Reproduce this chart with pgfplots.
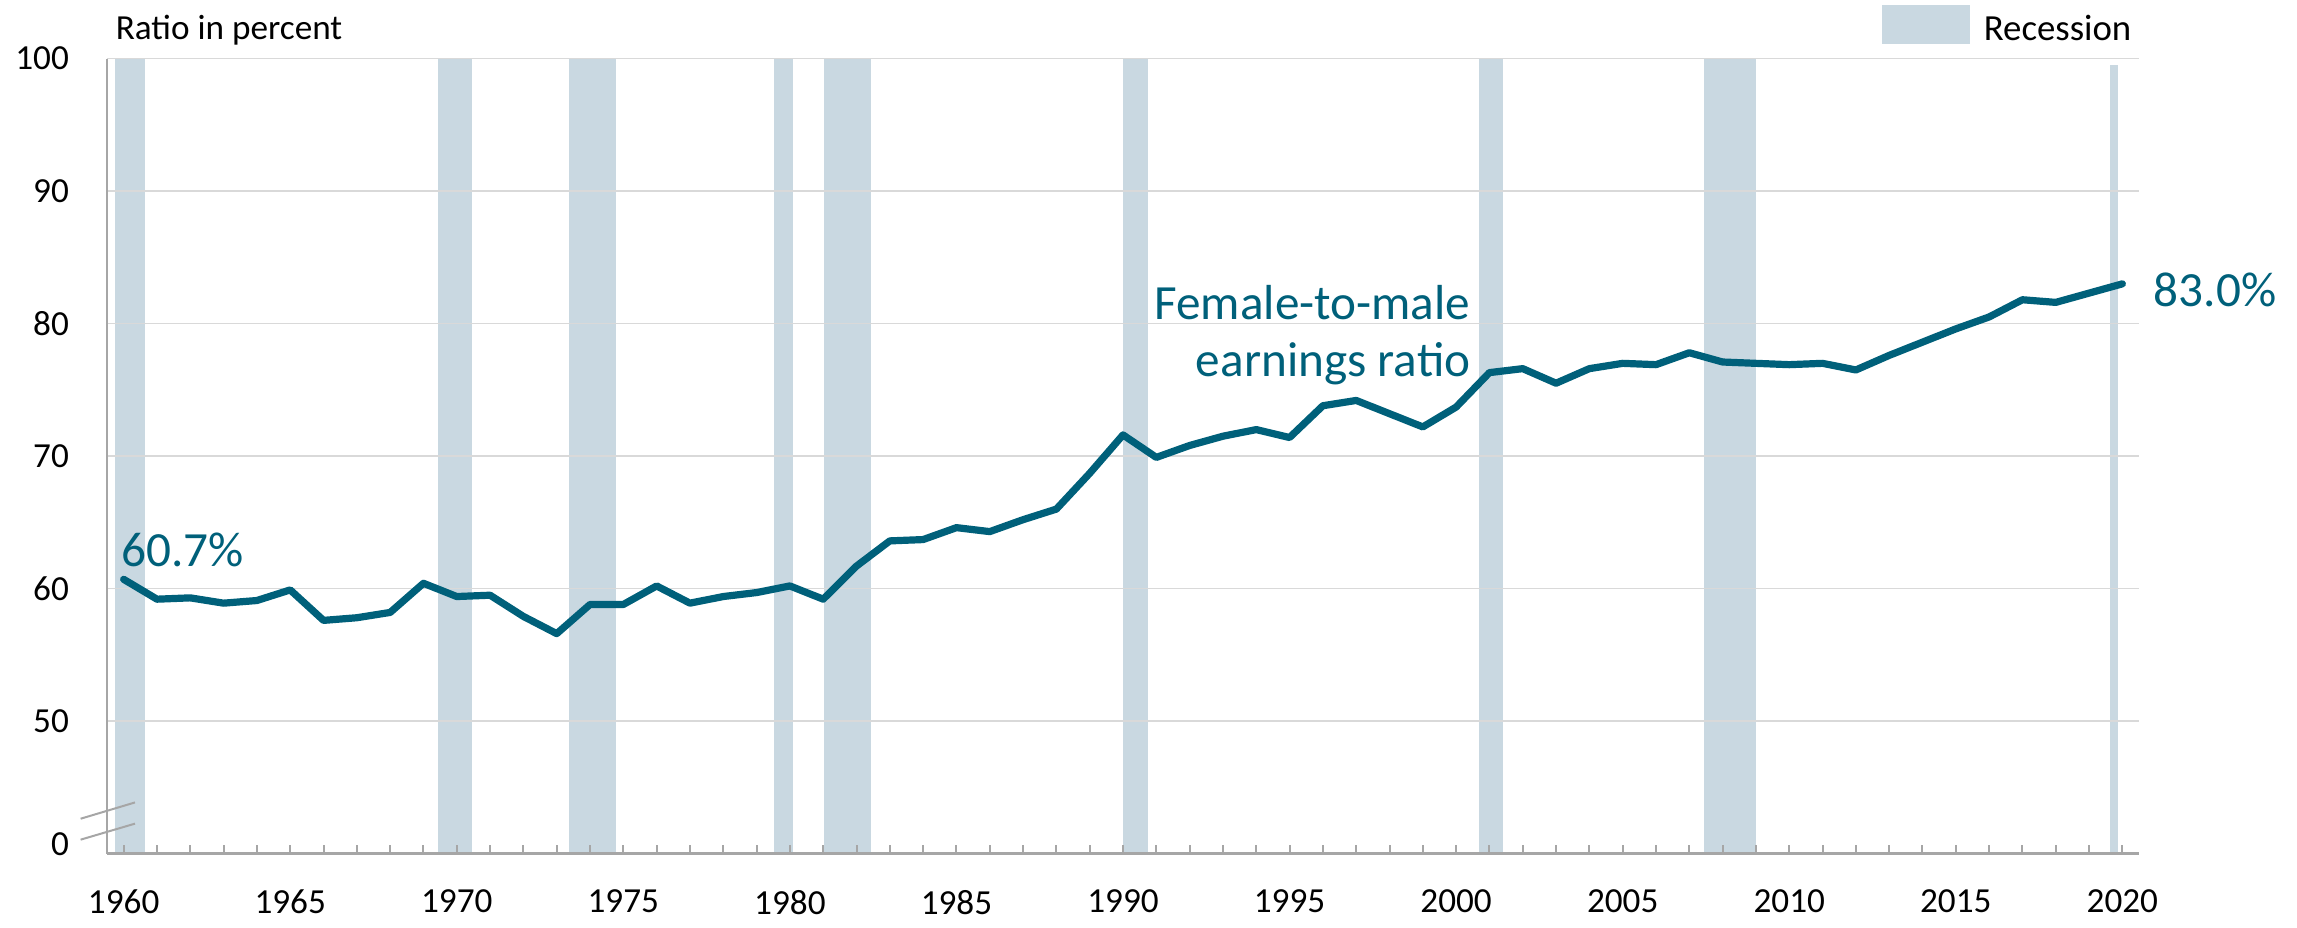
\documentclass[border=0pt]{standalone}
\usepackage{pgfplots}
\pgfplotsset{compat=1.18}
\usepackage{fontspec}
\setmainfont{Carlito}

\definecolor{ratioline}{HTML}{00607A}
\definecolor{recess}{HTML}{C9D8E1}
\definecolor{gridgray}{HTML}{D9D9D9}
\definecolor{axisgray}{HTML}{A6A6A6}

% female-to-male earnings ratio, percent
\pgfplotstableread{
year ratio
1960 60.7
1961 59.2
1962 59.3
1963 58.9
1964 59.1
1965 59.9
1966 57.6
1967 57.8
1968 58.2
1969 60.4
1970 59.4
1971 59.5
1972 57.9
1973 56.6
1974 58.8
1975 58.8
1976 60.2
1977 58.9
1978 59.4
1979 59.7
1980 60.2
1981 59.2
1982 61.7
1983 63.6
1984 63.7
1985 64.6
1986 64.3
1987 65.2
1988 66.0
1989 68.7
1990 71.6
1991 69.9
1992 70.8
1993 71.5
1994 72.0
1995 71.4
1996 73.8
1997 74.2
1998 73.2
1999 72.2
2000 73.7
2001 76.3
2002 76.6
2003 75.5
2004 76.6
2005 77.0
2006 76.9
2007 77.8
2008 77.1
2009 77.0
2010 76.9
2011 77.0
2012 76.5
2013 77.6
2014 78.6
2015 79.6
2016 80.5
2017 81.8
2018 81.6
2019 82.3
2020 83.0
}\ratiodata

\pgfplotsset{
  recbar/.style={fill=recess, draw=none, forget plot, on layer=axis background}
}
\tikzset{
  smalltxt/.style={font=\fontsize{8.8}{10.5}\selectfont},
  bigtxt/.style={font=\fontsize{12.3}{14}\selectfont, text=ratioline, inner sep=0pt}
}

\begin{document}
\begin{tikzpicture}
\begin{axis}[
  set layers,
  scale only axis,
  width=508pt, height=198.75pt,
  xmin=1959.5, xmax=2020.5,
  ymin=40, ymax=100,
  axis x line=bottom, axis y line=left,
  axis line style={-, draw=axisgray, line width=0.6pt},
  tick align=inside,
  xtick={1960,1965,...,2020},
  minor x tick num=4,
  major tick length=2.2pt, minor tick length=2.2pt,
  x tick style={draw=axisgray, line width=0.5pt},
  xticklabel style={yshift=-5.6pt},
  ytick={50,60,...,100},
  y tick style={draw=none},
  yticklabel style={xshift=-6pt},
  extra y ticks={40.7},
  extra y tick labels={0},
  extra y tick style={grid=none, tick style={draw=none}},
  ymajorgrids,
  major grid style={draw=gridgray, line width=0.45pt},
  tick label style={font=\fontsize{8.8}{10.5}\selectfont},
  /pgf/number format/1000 sep={},
  /pgf/number format/assume math mode=true,
  clip=false,
]
% recession periods
\addplot[recbar] coordinates {(1959.75,40) (1959.75,100) (1960.64,100) (1960.64,40)} -- cycle;
\addplot[recbar] coordinates {(1969.45,40) (1969.45,100) (1970.45,100) (1970.45,40)} -- cycle;
\addplot[recbar] coordinates {(1973.37,40) (1973.37,100) (1974.78,100) (1974.78,40)} -- cycle;
\addplot[recbar] coordinates {(1979.52,40) (1979.52,100) (1980.09,100) (1980.09,40)} -- cycle;
\addplot[recbar] coordinates {(1981.03,40) (1981.03,100) (1982.43,100) (1982.43,40)} -- cycle;
\addplot[recbar] coordinates {(1990.00,40) (1990.00,100) (1990.74,100) (1990.74,40)} -- cycle;
\addplot[recbar] coordinates {(2000.68,40) (2000.68,100) (2001.42,100) (2001.42,40)} -- cycle;
\addplot[recbar] coordinates {(2007.45,40) (2007.45,100) (2009.00,100) (2009.00,40)} -- cycle;
\addplot[recbar] coordinates {(2019.64,40) (2019.64,99.5) (2019.88,99.5) (2019.88,40)} -- cycle;

\addplot[ratioline, line width=1.8pt, line cap=round, line join=round, mark=none]
  table[x=year, y=ratio] {\ratiodata};

\node[bigtxt, anchor=base west] at (axis cs:1959.9,61.65) {60.7\%};
\node[bigtxt, anchor=base west] at ([xshift=7.7pt]axis cs:2020,81.3) {83.0\%};
\node[bigtxt, anchor=base east] at (axis cs:2000.45,80.3) {Female-to-male};
\node[bigtxt, anchor=base east] at (axis cs:2000.45,76.0) {earnings ratio};

% title and legend
\node[smalltxt, anchor=base west, inner sep=0pt] at ([xshift=2pt, yshift=4.8pt]rel axis cs:0,1) {Ratio in percent};
\fill[recess] ([xshift=-64.25pt, yshift=3.65pt]rel axis cs:1,1) rectangle ([xshift=-42.25pt, yshift=13.4pt]rel axis cs:1,1);
\node[anchor=base west, inner sep=0pt, font=\fontsize{9.2}{11}\selectfont] at ([xshift=-39pt, yshift=4.4pt]rel axis cs:1,1) {Recession};

% axis break marks
\draw[axisgray, line width=0.5pt] ([xshift=-6.6pt]axis cs:1959.5,42.63) -- ([xshift=7pt]axis cs:1959.5,43.86);
\draw[axisgray, line width=0.5pt] ([xshift=-6.6pt]axis cs:1959.5,41.05) -- ([xshift=7pt]axis cs:1959.5,42.26);
\end{axis}
\path ([xshift=-26.75pt, yshift=-17.25pt]current axis.south west) rectangle ([xshift=39.5pt, yshift=14.65pt]current axis.north east);
\end{tikzpicture}
\end{document}
